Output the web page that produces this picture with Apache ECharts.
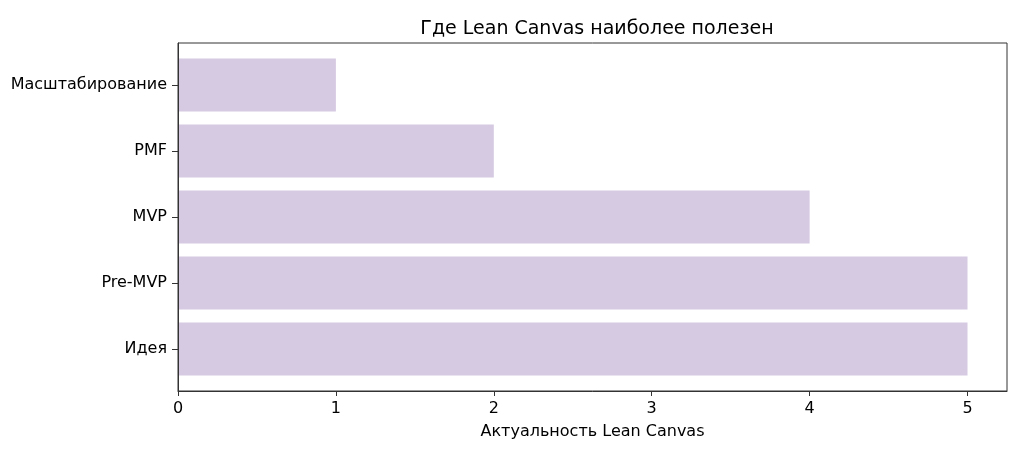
<!DOCTYPE html>
<html lang="ru">
<head>
<meta charset="UTF-8">
<title>Где Lean Canvas наиболее полезен</title>
<script src="https://cdn.jsdelivr.net/npm/echarts@6/dist/echarts.min.js"></script>
<style>
  html, body { margin: 0; padding: 0; background: #fff; }
  #main { width: 1024px; height: 458px; }
</style>
</head>
<body>
<div id="main"></div>
<script>
// категории снизу вверх, как в matplotlib barh
var stages = ['Идея', 'Pre-MVP', 'MVP', 'PMF', 'Масштабирование'];
var relevance = [5, 5, 4, 2, 1];
var xTicks = [0, 1, 2, 3, 4, 5];

var font = 'DejaVu Sans';
var chart = echarts.init(document.getElementById('main'));

var option = {
  animation: false,
  textStyle: { fontFamily: font },
  title: {
    text: 'Где Lean Canvas наиболее полезен',
    left: 592, top: 15, textAlign: 'center',
    textStyle: { fontFamily: font, fontSize: 19, fontWeight: 'normal', color: '#000' }
  },
  grid: [
    // рамка и ось X
    { left: 178, right: 17, top: 43, bottom: 67, show: true, borderColor: '#333', borderWidth: 1, backgroundColor: 'transparent' },
    // область столбцов (с отступами как у matplotlib)
    { left: 178, right: 17, top: 52, bottom: 76 }
  ],
  xAxis: [
    {
      gridIndex: 0, type: 'value', min: 0, max: 5.25, interval: 1,
      name: 'Актуальность Lean Canvas', nameLocation: 'middle', nameGap: 33,
      nameTextStyle: { fontFamily: font, fontSize: 16, color: '#000' },
      axisLine: { show: true, lineStyle: { color: '#333' } },
      axisTick: { show: true, length: 5, lineStyle: { color: '#333' }, customValues: xTicks },
      axisLabel: { fontFamily: font, fontSize: 16, color: '#000', margin: 10, customValues: xTicks },
      splitLine: { show: false }
    },
    {
      gridIndex: 1, type: 'value', min: 0, max: 5.25,
      show: false, splitLine: { show: false }
    }
  ],
  yAxis: [
    {
      // левая линия рамки поверх столбцов
      gridIndex: 0, type: 'value', z: 10,
      axisLine: { show: true, lineStyle: { color: '#333' } },
      axisTick: { show: false }, axisLabel: { show: false },
      splitLine: { show: false }
    },
    {
      gridIndex: 1, type: 'category', data: stages,
      axisLine: { show: false },
      axisTick: { show: true, length: 6, alignWithLabel: true, lineStyle: { color: '#333' } },
      axisLabel: { fontFamily: font, fontSize: 16, color: '#000', margin: 11 }
    }
  ],
  series: [{
    type: 'bar',
    xAxisIndex: 1, yAxisIndex: 1,
    data: relevance,
    barWidth: '80%',
    itemStyle: { color: '#d6cae3' }
  }]
};

chart.setOption(option);
</script>
</body>
</html>
